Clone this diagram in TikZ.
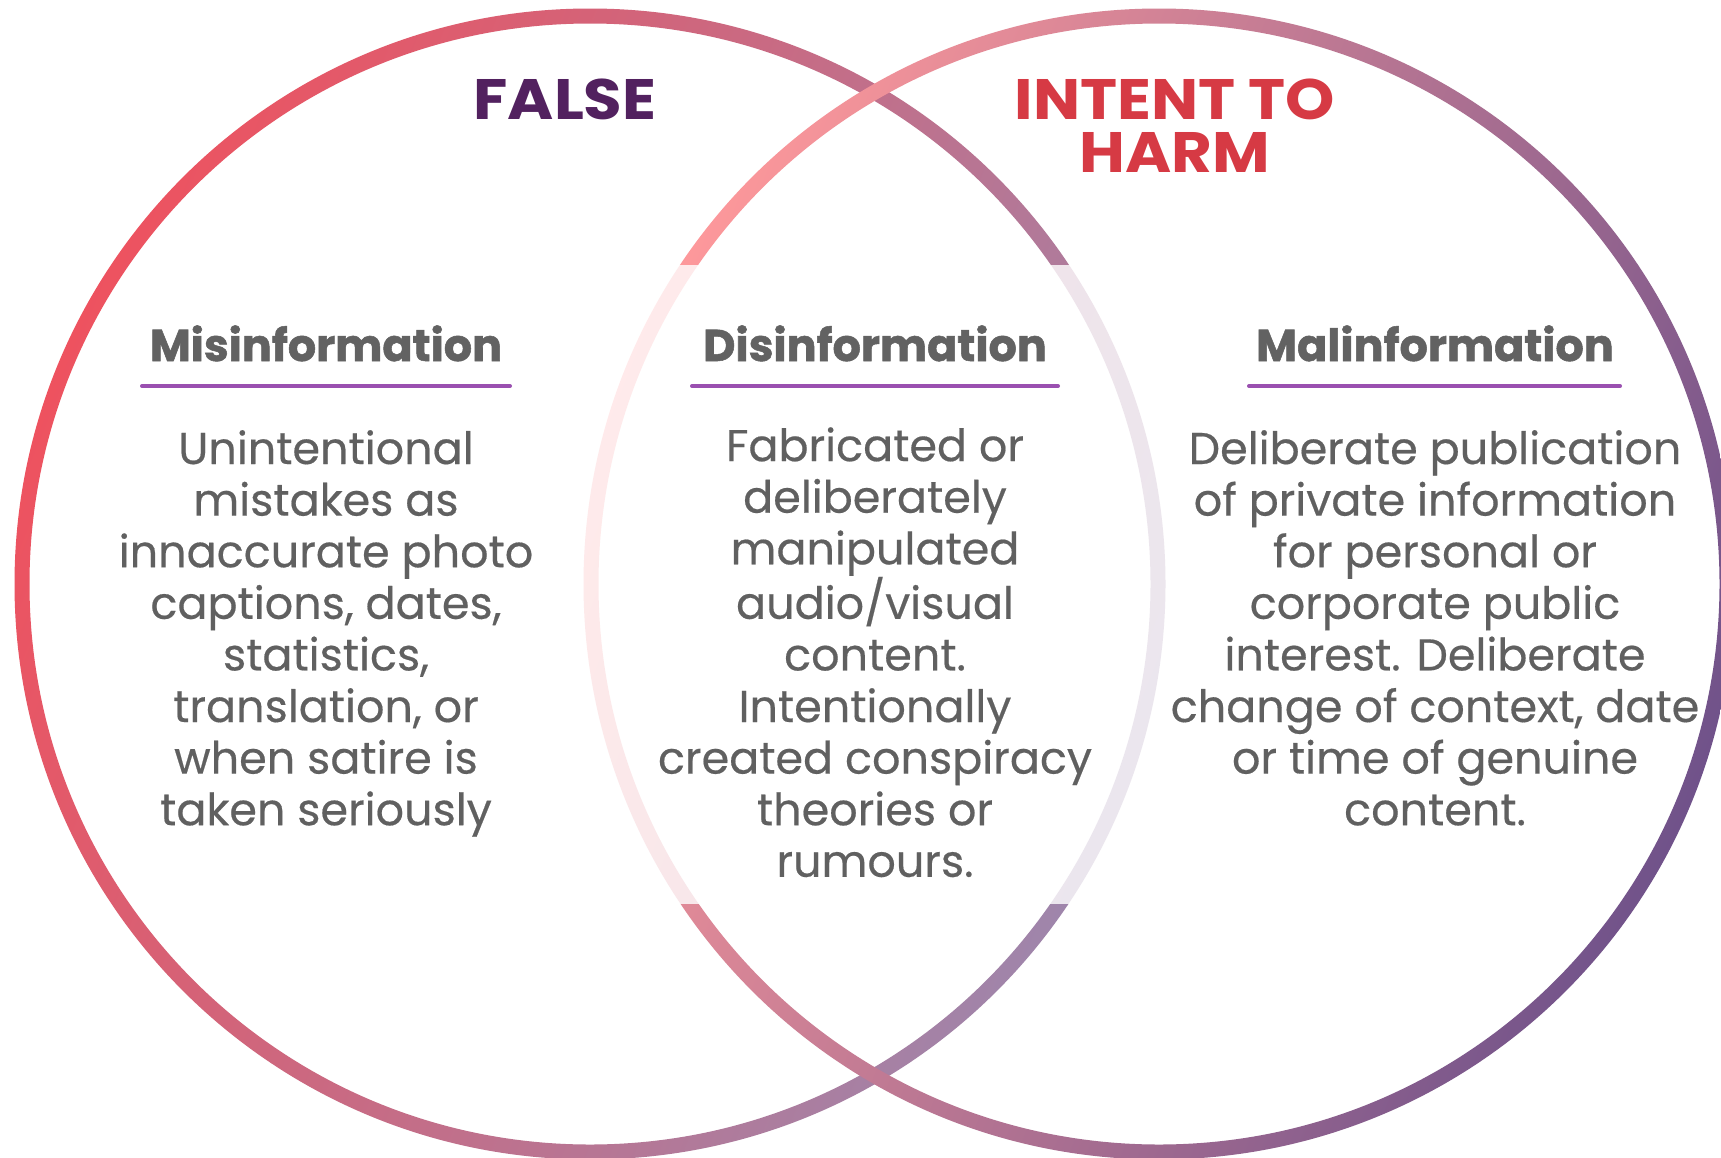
\documentclass[tikz,border=0pt]{standalone}
\usepackage{fontspec}
\setmainfont{Poppins}
\newfontfamily\bodyfont{Poppins}[FakeBold=0.4]
\newfontfamily\headfont{Poppins}[BoldFeatures={FakeBold=1.2}]
\newfontfamily\titlefont{Poppins}[FakeStretch=1.1]
\definecolor{lcA}{RGB}{238,82,95}
\definecolor{lcB}{RGB}{158,134,172}
\definecolor{rcA}{RGB}{255,153,155}
\definecolor{rcB}{RGB}{112,82,138}
\definecolor{falsecol}{RGB}{82,33,95}
\definecolor{harmcol}{RGB}{214,58,68}
\definecolor{headcol}{RGB}{98,98,98}
\definecolor{bodycol}{RGB}{96,96,96}
\definecolor{rulecol}{RGB}{154,80,176}
\begin{document}
\begin{tikzpicture}[x=1pt,y=-1pt,
  bigtitle/.style={font=\titlefont\fontsize{57}{53}\selectfont\bfseries, align=center, anchor=base, inner sep=0pt},
  headtext/.style={font=\headfont\fontsize{44.5}{51.6}\selectfont\bfseries, text=headcol, anchor=base, inner sep=0pt},
  bodytext/.style={font=\bodyfont\fontsize{44.5}{51.6}\selectfont, text=bodycol, align=center, anchor=base, inner sep=0pt},
  headrule/.style={draw=rulecol, line width=4pt, line cap=round}]
\useasboundingbox (0,0) rectangle (1721,1157);
\clip (0,0) rectangle (1721,1157);
\fill[white] (0,0) rectangle (1721,1157);
% circles
\shade[top color=lcA, bottom color=lcB, shading angle=68, even odd rule]
  (590,584) circle (575.5) (590,584) circle (560.5);
\shade[top color=rcA, bottom color=rcB, shading angle=68, even odd rule]
  (1159,584) circle (575.5) (1159,584) circle (560.5);
% faded band of the lens arcs
\fill[white, opacity=0.8] (560,265) rectangle (1190,904);
% titles (anchor base = last line)
\node[bigtitle, text=falsecol] (false) at (565,119) {FALSE};
\node[bigtitle, text=harmcol] (intent) at (1175,172) {INTENT TO\\HARM};
% headings
\node[headtext] (mis) at (326,361) {Misinformation};
\node[headtext] (dis) at (875,361) {Disinformation};
\node[headtext] (mal) at (1435,361) {Malinformation};
\draw[headrule] (142,386) -- (510,386);
\draw[headrule] (692,386) -- (1058,386);
\draw[headrule] (1249,386) -- (1620,386);
% body texts (anchor base = last line)
\node[bodytext] (mistext) at (326,825.2) {Unintentional\\mistakes as\\innaccurate photo\\captions, dates,\\statistics,\\translation, or\\when satire is\\taken seriously};
\node[bodytext] (distext) at (875,876.8) {Fabricated or\\deliberately\\manipulated\\audio/visual\\content.\\Intentionally\\created conspiracy\\theories or\\rumours.};
\node[bodytext] (maltext) at (1435,825.2) {Deliberate publication\\of private information\\for personal or\\corporate public\\interest. Deliberate\\change of context, date\\or time of genuine\\content.};
\end{tikzpicture}
\end{document}
